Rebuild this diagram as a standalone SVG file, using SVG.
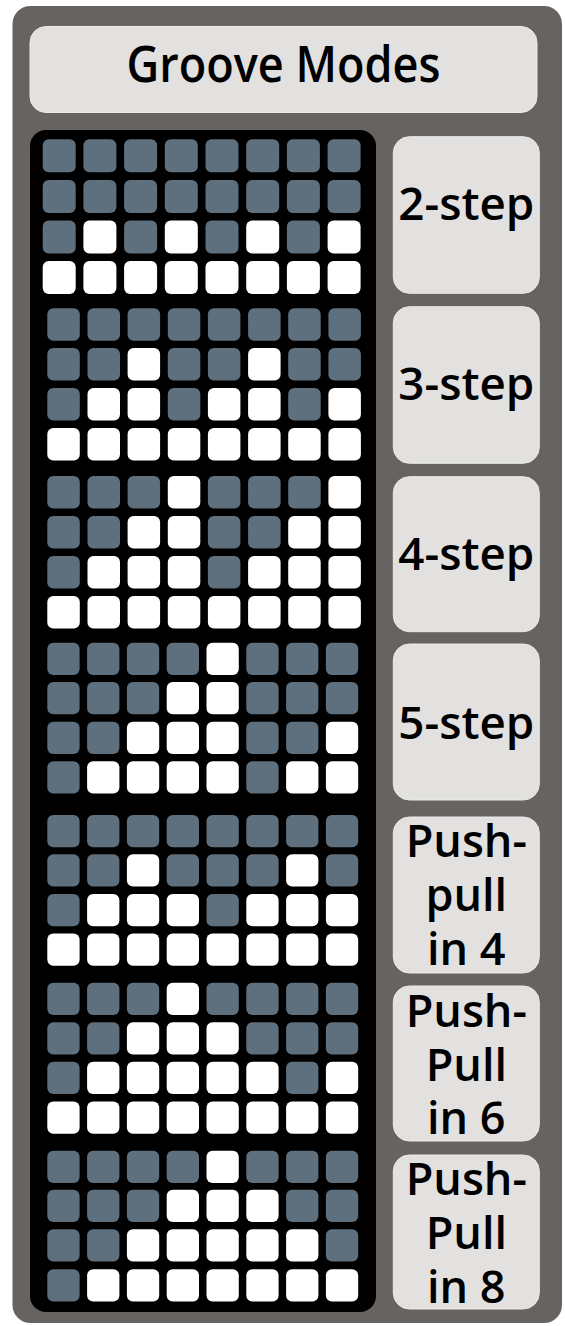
<svg xmlns="http://www.w3.org/2000/svg" width="565" height="1326" viewBox="0 0 565 1326">
<style>
.frame{fill:#676361}
.panel{fill:#000}
.box{fill:#e2e1e0;stroke:#ebeae9;stroke-width:1}
.d{fill:#5e6f7d}
.w{fill:#ffffff}
.t{font-family:"Open Sans","Noto Sans","DejaVu Sans",sans-serif;font-weight:600;fill:#000;text-anchor:middle}
.lbl{font-size:45px}
.ttl{font-size:51px}
</style>
<rect class="frame" x="12.5" y="6" width="549.5" height="1317" rx="18"/>
<g id="title">
<rect class="box" x="30" y="26.5" width="507" height="86" rx="16"/>
<text class="t ttl" x="283.5" y="82" textLength="314" lengthAdjust="spacingAndGlyphs">Groove Modes</text>
</g>
<rect class="panel" x="30" y="130" width="346" height="1182" rx="16"/>

<g id="mode-2step">
<g id="grid-2step">
<g transform="translate(0,139.3)">
<rect class="d" x="42.7" width="33" height="33" rx="6"/><rect class="d" x="83.4" width="33" height="33" rx="6"/><rect class="d" x="124.1" width="33" height="33" rx="6"/><rect class="d" x="164.8" width="33" height="33" rx="6"/><rect class="d" x="205.5" width="33" height="33" rx="6"/><rect class="d" x="246.2" width="33" height="33" rx="6"/><rect class="d" x="286.9" width="33" height="33" rx="6"/><rect class="d" x="327.6" width="33" height="33" rx="6"/>
</g>
<g transform="translate(0,180)">
<rect class="d" x="42.7" width="33" height="33" rx="6"/><rect class="d" x="83.4" width="33" height="33" rx="6"/><rect class="d" x="124.1" width="33" height="33" rx="6"/><rect class="d" x="164.8" width="33" height="33" rx="6"/><rect class="d" x="205.5" width="33" height="33" rx="6"/><rect class="d" x="246.2" width="33" height="33" rx="6"/><rect class="d" x="286.9" width="33" height="33" rx="6"/><rect class="d" x="327.6" width="33" height="33" rx="6"/>
</g>
<g transform="translate(0,220.5)">
<rect class="d" x="42.7" width="33" height="33" rx="6"/><rect class="w" x="83.4" width="33" height="33" rx="6"/><rect class="d" x="124.1" width="33" height="33" rx="6"/><rect class="w" x="164.8" width="33" height="33" rx="6"/><rect class="d" x="205.5" width="33" height="33" rx="6"/><rect class="w" x="246.2" width="33" height="33" rx="6"/><rect class="d" x="286.9" width="33" height="33" rx="6"/><rect class="w" x="327.6" width="33" height="33" rx="6"/>
</g>
<g transform="translate(0,261)">
<rect class="w" x="42.7" width="33" height="33" rx="6"/><rect class="w" x="83.4" width="33" height="33" rx="6"/><rect class="w" x="124.1" width="33" height="33" rx="6"/><rect class="w" x="164.8" width="33" height="33" rx="6"/><rect class="w" x="205.5" width="33" height="33" rx="6"/><rect class="w" x="246.2" width="33" height="33" rx="6"/><rect class="w" x="286.9" width="33" height="33" rx="6"/><rect class="w" x="327.6" width="33" height="33" rx="6"/>
</g>
</g>
<g id="label-2step">
<rect class="box" x="393.3" y="136.7" width="146" height="156.6" rx="16"/>
<text class="t lbl" x="466.3" y="220" textLength="136" lengthAdjust="spacingAndGlyphs">2-step</text>
</g>
</g>

<g id="mode-3step">
<g id="grid-3step">
<g transform="translate(0,308.3)">
<rect class="d" x="47.3" width="32.5" height="32.5" rx="6"/><rect class="d" x="87.5" width="32.5" height="32.5" rx="6"/><rect class="d" x="127.6" width="32.5" height="32.5" rx="6"/><rect class="d" x="167.8" width="32.5" height="32.5" rx="6"/><rect class="d" x="207.9" width="32.5" height="32.5" rx="6"/><rect class="d" x="248.1" width="32.5" height="32.5" rx="6"/><rect class="d" x="288.2" width="32.5" height="32.5" rx="6"/><rect class="d" x="328.4" width="32.5" height="32.5" rx="6"/>
</g>
<g transform="translate(0,348)">
<rect class="d" x="47.3" width="32.5" height="32.5" rx="6"/><rect class="d" x="87.5" width="32.5" height="32.5" rx="6"/><rect class="w" x="127.6" width="32.5" height="32.5" rx="6"/><rect class="d" x="167.8" width="32.5" height="32.5" rx="6"/><rect class="d" x="207.9" width="32.5" height="32.5" rx="6"/><rect class="w" x="248.1" width="32.5" height="32.5" rx="6"/><rect class="d" x="288.2" width="32.5" height="32.5" rx="6"/><rect class="d" x="328.4" width="32.5" height="32.5" rx="6"/>
</g>
<g transform="translate(0,388)">
<rect class="d" x="47.3" width="32.5" height="32.5" rx="6"/><rect class="w" x="87.5" width="32.5" height="32.5" rx="6"/><rect class="w" x="127.6" width="32.5" height="32.5" rx="6"/><rect class="d" x="167.8" width="32.5" height="32.5" rx="6"/><rect class="w" x="207.9" width="32.5" height="32.5" rx="6"/><rect class="w" x="248.1" width="32.5" height="32.5" rx="6"/><rect class="d" x="288.2" width="32.5" height="32.5" rx="6"/><rect class="w" x="328.4" width="32.5" height="32.5" rx="6"/>
</g>
<g transform="translate(0,428)">
<rect class="w" x="47.3" width="32.5" height="32.5" rx="6"/><rect class="w" x="87.5" width="32.5" height="32.5" rx="6"/><rect class="w" x="127.6" width="32.5" height="32.5" rx="6"/><rect class="w" x="167.8" width="32.5" height="32.5" rx="6"/><rect class="w" x="207.9" width="32.5" height="32.5" rx="6"/><rect class="w" x="248.1" width="32.5" height="32.5" rx="6"/><rect class="w" x="288.2" width="32.5" height="32.5" rx="6"/><rect class="w" x="328.4" width="32.5" height="32.5" rx="6"/>
</g>
</g>
<g id="label-3step">
<rect class="box" x="393.3" y="306.7" width="146" height="156.6" rx="16"/>
<text class="t lbl" x="466.3" y="400" textLength="136" lengthAdjust="spacingAndGlyphs">3-step</text>
</g>
</g>

<g id="mode-4step">
<g id="grid-4step">
<g transform="translate(0,476)">
<rect class="d" x="47.3" width="32.5" height="32.5" rx="6"/><rect class="d" x="87.5" width="32.5" height="32.5" rx="6"/><rect class="d" x="127.6" width="32.5" height="32.5" rx="6"/><rect class="w" x="167.8" width="32.5" height="32.5" rx="6"/><rect class="d" x="207.9" width="32.5" height="32.5" rx="6"/><rect class="d" x="248.1" width="32.5" height="32.5" rx="6"/><rect class="d" x="288.2" width="32.5" height="32.5" rx="6"/><rect class="w" x="328.4" width="32.5" height="32.5" rx="6"/>
</g>
<g transform="translate(0,516)">
<rect class="d" x="47.3" width="32.5" height="32.5" rx="6"/><rect class="d" x="87.5" width="32.5" height="32.5" rx="6"/><rect class="w" x="127.6" width="32.5" height="32.5" rx="6"/><rect class="w" x="167.8" width="32.5" height="32.5" rx="6"/><rect class="d" x="207.9" width="32.5" height="32.5" rx="6"/><rect class="d" x="248.1" width="32.5" height="32.5" rx="6"/><rect class="w" x="288.2" width="32.5" height="32.5" rx="6"/><rect class="w" x="328.4" width="32.5" height="32.5" rx="6"/>
</g>
<g transform="translate(0,556)">
<rect class="d" x="47.3" width="32.5" height="32.5" rx="6"/><rect class="w" x="87.5" width="32.5" height="32.5" rx="6"/><rect class="w" x="127.6" width="32.5" height="32.5" rx="6"/><rect class="w" x="167.8" width="32.5" height="32.5" rx="6"/><rect class="d" x="207.9" width="32.5" height="32.5" rx="6"/><rect class="w" x="248.1" width="32.5" height="32.5" rx="6"/><rect class="w" x="288.2" width="32.5" height="32.5" rx="6"/><rect class="w" x="328.4" width="32.5" height="32.5" rx="6"/>
</g>
<g transform="translate(0,596)">
<rect class="w" x="47.3" width="32.5" height="32.5" rx="6"/><rect class="w" x="87.5" width="32.5" height="32.5" rx="6"/><rect class="w" x="127.6" width="32.5" height="32.5" rx="6"/><rect class="w" x="167.8" width="32.5" height="32.5" rx="6"/><rect class="w" x="207.9" width="32.5" height="32.5" rx="6"/><rect class="w" x="248.1" width="32.5" height="32.5" rx="6"/><rect class="w" x="288.2" width="32.5" height="32.5" rx="6"/><rect class="w" x="328.4" width="32.5" height="32.5" rx="6"/>
</g>
</g>
<g id="label-4step">
<rect class="box" x="393.3" y="476.7" width="146" height="155" rx="16"/>
<text class="t lbl" x="466.3" y="570" textLength="136" lengthAdjust="spacingAndGlyphs">4-step</text>
</g>
</g>

<g id="mode-5step">
<g id="grid-5step">
<g transform="translate(0,642.7)">
<rect class="d" x="47.3" width="32.3" height="32.3" rx="6"/><rect class="d" x="87.1" width="32.3" height="32.3" rx="6"/><rect class="d" x="126.9" width="32.3" height="32.3" rx="6"/><rect class="d" x="166.7" width="32.3" height="32.3" rx="6"/><rect class="w" x="206.5" width="32.3" height="32.3" rx="6"/><rect class="d" x="246.3" width="32.3" height="32.3" rx="6"/><rect class="d" x="286.1" width="32.3" height="32.3" rx="6"/><rect class="d" x="325.9" width="32.3" height="32.3" rx="6"/>
</g>
<g transform="translate(0,682)">
<rect class="d" x="47.3" width="32.3" height="32.3" rx="6"/><rect class="d" x="87.1" width="32.3" height="32.3" rx="6"/><rect class="d" x="126.9" width="32.3" height="32.3" rx="6"/><rect class="w" x="166.7" width="32.3" height="32.3" rx="6"/><rect class="w" x="206.5" width="32.3" height="32.3" rx="6"/><rect class="d" x="246.3" width="32.3" height="32.3" rx="6"/><rect class="d" x="286.1" width="32.3" height="32.3" rx="6"/><rect class="d" x="325.9" width="32.3" height="32.3" rx="6"/>
</g>
<g transform="translate(0,721.7)">
<rect class="d" x="47.3" width="32.3" height="32.3" rx="6"/><rect class="d" x="87.1" width="32.3" height="32.3" rx="6"/><rect class="w" x="126.9" width="32.3" height="32.3" rx="6"/><rect class="w" x="166.7" width="32.3" height="32.3" rx="6"/><rect class="w" x="206.5" width="32.3" height="32.3" rx="6"/><rect class="d" x="246.3" width="32.3" height="32.3" rx="6"/><rect class="d" x="286.1" width="32.3" height="32.3" rx="6"/><rect class="w" x="325.9" width="32.3" height="32.3" rx="6"/>
</g>
<g transform="translate(0,761.3)">
<rect class="d" x="47.3" width="32.3" height="32.3" rx="6"/><rect class="w" x="87.1" width="32.3" height="32.3" rx="6"/><rect class="w" x="126.9" width="32.3" height="32.3" rx="6"/><rect class="w" x="166.7" width="32.3" height="32.3" rx="6"/><rect class="w" x="206.5" width="32.3" height="32.3" rx="6"/><rect class="d" x="246.3" width="32.3" height="32.3" rx="6"/><rect class="w" x="286.1" width="32.3" height="32.3" rx="6"/><rect class="w" x="325.9" width="32.3" height="32.3" rx="6"/>
</g>
</g>
<g id="label-5step">
<rect class="box" x="393.3" y="644" width="146" height="156" rx="16"/>
<text class="t lbl" x="466.3" y="739" textLength="136" lengthAdjust="spacingAndGlyphs">5-step</text>
</g>
</g>

<g id="mode-pushpull4">
<g id="grid-pushpull4">
<g transform="translate(0,815)">
<rect class="d" x="47.3" width="32.3" height="32.3" rx="6"/><rect class="d" x="87.1" width="32.3" height="32.3" rx="6"/><rect class="d" x="126.9" width="32.3" height="32.3" rx="6"/><rect class="d" x="166.7" width="32.3" height="32.3" rx="6"/><rect class="d" x="206.5" width="32.3" height="32.3" rx="6"/><rect class="d" x="246.3" width="32.3" height="32.3" rx="6"/><rect class="d" x="286.1" width="32.3" height="32.3" rx="6"/><rect class="d" x="325.9" width="32.3" height="32.3" rx="6"/>
</g>
<g transform="translate(0,854.3)">
<rect class="d" x="47.3" width="32.3" height="32.3" rx="6"/><rect class="d" x="87.1" width="32.3" height="32.3" rx="6"/><rect class="w" x="126.9" width="32.3" height="32.3" rx="6"/><rect class="d" x="166.7" width="32.3" height="32.3" rx="6"/><rect class="d" x="206.5" width="32.3" height="32.3" rx="6"/><rect class="d" x="246.3" width="32.3" height="32.3" rx="6"/><rect class="w" x="286.1" width="32.3" height="32.3" rx="6"/><rect class="d" x="325.9" width="32.3" height="32.3" rx="6"/>
</g>
<g transform="translate(0,894)">
<rect class="d" x="47.3" width="32.3" height="32.3" rx="6"/><rect class="w" x="87.1" width="32.3" height="32.3" rx="6"/><rect class="w" x="126.9" width="32.3" height="32.3" rx="6"/><rect class="w" x="166.7" width="32.3" height="32.3" rx="6"/><rect class="d" x="206.5" width="32.3" height="32.3" rx="6"/><rect class="w" x="246.3" width="32.3" height="32.3" rx="6"/><rect class="w" x="286.1" width="32.3" height="32.3" rx="6"/><rect class="w" x="325.9" width="32.3" height="32.3" rx="6"/>
</g>
<g transform="translate(0,933.5)">
<rect class="w" x="47.3" width="32.3" height="32.3" rx="6"/><rect class="w" x="87.1" width="32.3" height="32.3" rx="6"/><rect class="w" x="126.9" width="32.3" height="32.3" rx="6"/><rect class="w" x="166.7" width="32.3" height="32.3" rx="6"/><rect class="w" x="206.5" width="32.3" height="32.3" rx="6"/><rect class="w" x="246.3" width="32.3" height="32.3" rx="6"/><rect class="w" x="286.1" width="32.3" height="32.3" rx="6"/><rect class="w" x="325.9" width="32.3" height="32.3" rx="6"/>
</g>
</g>
<g id="label-pushpull4">
<rect class="box" x="393.3" y="817" width="146" height="156" rx="16"/>
<text class="t lbl" x="466.3" y="857">Push-</text>
<text class="t lbl" x="466.3" y="911">pull</text>
<text class="t lbl" x="466.3" y="965">in 4</text>
</g>
</g>

<g id="mode-pushpull6">
<g id="grid-pushpull6">
<g transform="translate(0,982.7)">
<rect class="d" x="47.3" width="32.3" height="32.3" rx="6"/><rect class="d" x="87.1" width="32.3" height="32.3" rx="6"/><rect class="d" x="126.9" width="32.3" height="32.3" rx="6"/><rect class="w" x="166.7" width="32.3" height="32.3" rx="6"/><rect class="d" x="206.5" width="32.3" height="32.3" rx="6"/><rect class="d" x="246.3" width="32.3" height="32.3" rx="6"/><rect class="d" x="286.1" width="32.3" height="32.3" rx="6"/><rect class="d" x="325.9" width="32.3" height="32.3" rx="6"/>
</g>
<g transform="translate(0,1022.3)">
<rect class="d" x="47.3" width="32.3" height="32.3" rx="6"/><rect class="d" x="87.1" width="32.3" height="32.3" rx="6"/><rect class="w" x="126.9" width="32.3" height="32.3" rx="6"/><rect class="w" x="166.7" width="32.3" height="32.3" rx="6"/><rect class="w" x="206.5" width="32.3" height="32.3" rx="6"/><rect class="d" x="246.3" width="32.3" height="32.3" rx="6"/><rect class="d" x="286.1" width="32.3" height="32.3" rx="6"/><rect class="d" x="325.9" width="32.3" height="32.3" rx="6"/>
</g>
<g transform="translate(0,1061.7)">
<rect class="d" x="47.3" width="32.3" height="32.3" rx="6"/><rect class="w" x="87.1" width="32.3" height="32.3" rx="6"/><rect class="w" x="126.9" width="32.3" height="32.3" rx="6"/><rect class="w" x="166.7" width="32.3" height="32.3" rx="6"/><rect class="w" x="206.5" width="32.3" height="32.3" rx="6"/><rect class="w" x="246.3" width="32.3" height="32.3" rx="6"/><rect class="d" x="286.1" width="32.3" height="32.3" rx="6"/><rect class="w" x="325.9" width="32.3" height="32.3" rx="6"/>
</g>
<g transform="translate(0,1101.5)">
<rect class="w" x="47.3" width="32.3" height="32.3" rx="6"/><rect class="w" x="87.1" width="32.3" height="32.3" rx="6"/><rect class="w" x="126.9" width="32.3" height="32.3" rx="6"/><rect class="w" x="166.7" width="32.3" height="32.3" rx="6"/><rect class="w" x="206.5" width="32.3" height="32.3" rx="6"/><rect class="w" x="246.3" width="32.3" height="32.3" rx="6"/><rect class="w" x="286.1" width="32.3" height="32.3" rx="6"/><rect class="w" x="325.9" width="32.3" height="32.3" rx="6"/>
</g>
</g>
<g id="label-pushpull6">
<rect class="box" x="393.3" y="986" width="146" height="155" rx="16"/>
<text class="t lbl" x="466.3" y="1027">Push-</text>
<text class="t lbl" x="466.3" y="1081">Pull</text>
<text class="t lbl" x="466.3" y="1134">in 6</text>
</g>
</g>

<g id="mode-pushpull8">
<g id="grid-pushpull8">
<g transform="translate(0,1150.7)">
<rect class="d" x="47.3" width="32.3" height="32.3" rx="6"/><rect class="d" x="87.1" width="32.3" height="32.3" rx="6"/><rect class="d" x="126.9" width="32.3" height="32.3" rx="6"/><rect class="d" x="166.7" width="32.3" height="32.3" rx="6"/><rect class="w" x="206.5" width="32.3" height="32.3" rx="6"/><rect class="d" x="246.3" width="32.3" height="32.3" rx="6"/><rect class="d" x="286.1" width="32.3" height="32.3" rx="6"/><rect class="d" x="325.9" width="32.3" height="32.3" rx="6"/>
</g>
<g transform="translate(0,1189.7)">
<rect class="d" x="47.3" width="32.3" height="32.3" rx="6"/><rect class="d" x="87.1" width="32.3" height="32.3" rx="6"/><rect class="d" x="126.9" width="32.3" height="32.3" rx="6"/><rect class="w" x="166.7" width="32.3" height="32.3" rx="6"/><rect class="w" x="206.5" width="32.3" height="32.3" rx="6"/><rect class="w" x="246.3" width="32.3" height="32.3" rx="6"/><rect class="d" x="286.1" width="32.3" height="32.3" rx="6"/><rect class="d" x="325.9" width="32.3" height="32.3" rx="6"/>
</g>
<g transform="translate(0,1229.3)">
<rect class="d" x="47.3" width="32.3" height="32.3" rx="6"/><rect class="d" x="87.1" width="32.3" height="32.3" rx="6"/><rect class="w" x="126.9" width="32.3" height="32.3" rx="6"/><rect class="w" x="166.7" width="32.3" height="32.3" rx="6"/><rect class="w" x="206.5" width="32.3" height="32.3" rx="6"/><rect class="w" x="246.3" width="32.3" height="32.3" rx="6"/><rect class="w" x="286.1" width="32.3" height="32.3" rx="6"/><rect class="d" x="325.9" width="32.3" height="32.3" rx="6"/>
</g>
<g transform="translate(0,1269.3)">
<rect class="d" x="47.3" width="32.3" height="32.3" rx="6"/><rect class="w" x="87.1" width="32.3" height="32.3" rx="6"/><rect class="w" x="126.9" width="32.3" height="32.3" rx="6"/><rect class="w" x="166.7" width="32.3" height="32.3" rx="6"/><rect class="w" x="206.5" width="32.3" height="32.3" rx="6"/><rect class="w" x="246.3" width="32.3" height="32.3" rx="6"/><rect class="w" x="286.1" width="32.3" height="32.3" rx="6"/><rect class="w" x="325.9" width="32.3" height="32.3" rx="6"/>
</g>
</g>
<g id="label-pushpull8">
<rect class="box" x="393.3" y="1155" width="146" height="154" rx="16"/>
<text class="t lbl" x="466.3" y="1195">Push-</text>
<text class="t lbl" x="466.3" y="1249">Pull</text>
<text class="t lbl" x="466.3" y="1303">in 8</text>
</g>
</g>
</svg>
